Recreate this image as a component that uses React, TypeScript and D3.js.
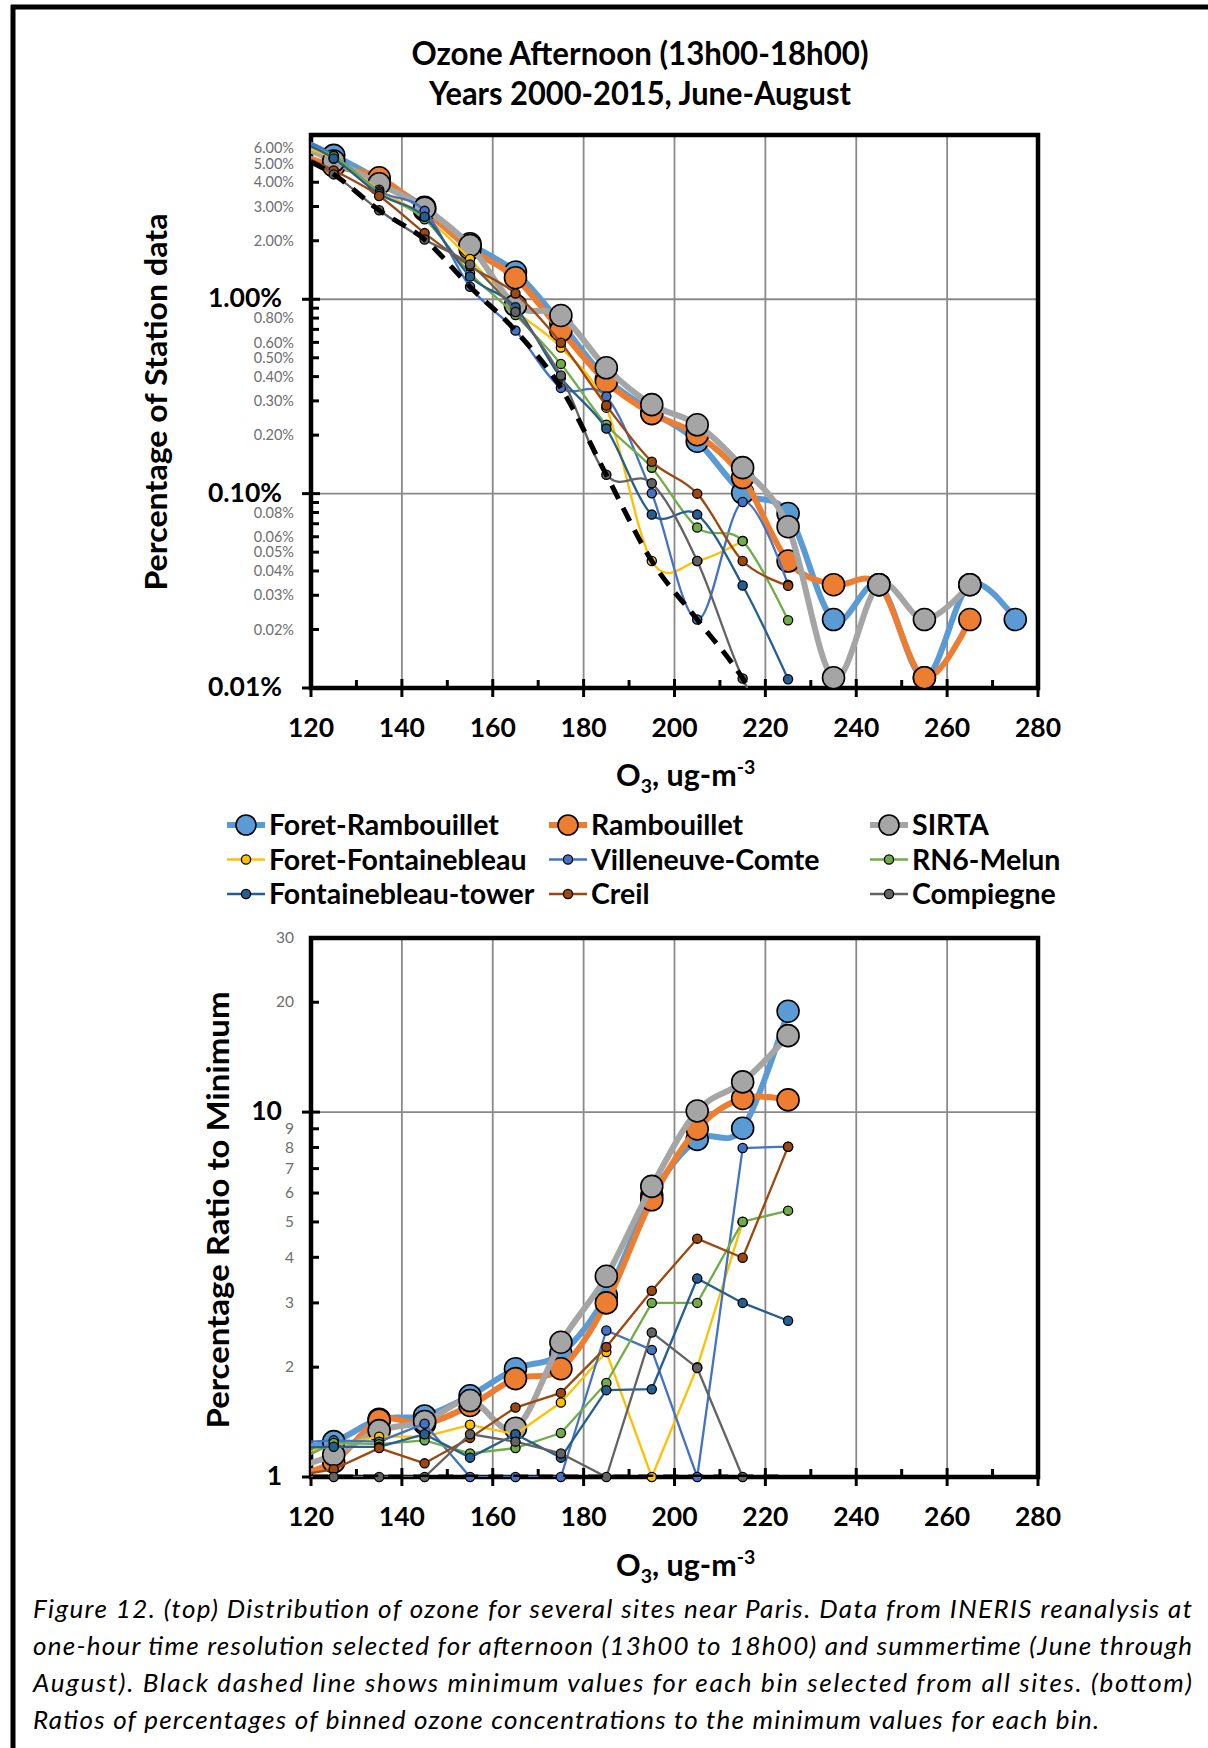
import React from 'react';
import * as d3 from 'd3';

// O3 bin centres (ug-m-3). The 115 bin lies left of the axis: only its clipped line ends show.
const bins = [115, 125, 135, 145, 155, 165, 175, 185, 195, 205, 215, 225, 235, 245, 255, 265, 275];

// top panel: percentage of station data (%)
const pctForetRambouillet = [7.0, 5.5, 4.12, 2.97, 1.93, 1.38, 0.75, 0.39, 0.265, 0.186, 0.101, 0.079, 0.0225, 0.034, 0.0113, 0.034, 0.0225];
const pctRambouillet = [5.77, 4.85, 4.22, 2.87, 1.82, 1.29, 0.69, 0.376, 0.258, 0.201, 0.121, 0.045, 0.034, 0.034, 0.0113, 0.0225];
const pctSirta = [6.6, 5.14, 3.93, 2.94, 1.89, 0.93, 0.825, 0.444, 0.287, 0.226, 0.136, 0.0676, 0.0113, 0.034, 0.0225, 0.034];
const pctForetFontainebleau = [6.4, 5.3, 3.66, 2.66, 1.61, 0.88, 0.565, 0.277, 0.045, 0.045, 0.057];
const pctVilleneuve = [7.2, 5.5, 3.6, 2.85, 1.16, 0.69, 0.35, 0.316, 0.1005, 0.0225, 0.0906, 0.034];
const pctRn6Melun = [6.5, 5.45, 3.54, 2.58, 1.36, 0.83, 0.465, 0.226, 0.136, 0.067, 0.057, 0.0223];
const pctFontainebleauTower = [6.9, 5.3, 3.48, 2.66, 1.31, 0.91, 0.395, 0.216, 0.078, 0.078, 0.0337, 0.0111];
const pctCreil = [5.85, 4.6, 3.4, 2.19, 1.48, 1.07, 0.597, 0.284, 0.146, 0.1, 0.045, 0.0336];
const pctCompiegne = [5.88, 4.39, 2.87, 2.03, 1.51, 0.86, 0.405, 0.125, 0.113, 0.045, 0.0112, 0.0042];
const pctMinimum = [5.77, 4.39, 2.87, 2.03, 1.16, 0.69, 0.35, 0.125, 0.045, 0.0225, 0.0112, 0.0042];

// bottom panel: ratio of percentage to the bin minimum
const ratioForetRambouillet = [1.2, 1.25, 1.44, 1.47, 1.67, 1.98, 2.18, 3.14, 5.9, 8.42, 9.03, 18.9];
const ratioRambouillet = [1.0, 1.1, 1.43, 1.4, 1.57, 1.86, 1.98, 3.0, 5.75, 8.99, 10.9, 10.8];
const ratioSirta = [1.05, 1.15, 1.34, 1.42, 1.62, 1.36, 2.34, 3.55, 6.26, 10.07, 12.1, 16.2];
const ratioForetFontainebleau = [1.14, 1.22, 1.29, 1.29, 1.39, 1.31, 1.6, 2.2, 1.0, 2.0, 5.0];
const ratioVilleneuve = [1.24, 1.26, 1.25, 1.4, 1.0, 1.0, 1.0, 2.52, 2.23, 1.0, 7.97, 8.04];
const ratioRn6Melun = [1.08, 1.24, 1.23, 1.26, 1.16, 1.2, 1.32, 1.81, 3.0, 3.0, 5.01, 5.37];
const ratioFontainebleauTower = [1.2, 1.21, 1.21, 1.31, 1.13, 1.31, 1.13, 1.73, 1.74, 3.5, 3.0, 2.68];
const ratioCreil = [1.0, 1.05, 1.2, 1.09, 1.28, 1.55, 1.7, 2.27, 3.24, 4.5, 3.99, 8.04];
const ratioCompiegne = [1.0, 1.0, 1.0, 1.0, 1.31, 1.25, 1.16, 1.0, 2.49, 1.99, 1.0];
const ratioMinimum = [1, 1, 1, 1, 1, 1, 1, 1, 1, 1, 1, 1];

const stations = ['Foret-Rambouillet', 'Rambouillet', 'SIRTA', 'Foret-Fontainebleau', 'Villeneuve-Comte', 'RN6-Melun', 'Fontainebleau-tower', 'Creil', 'Compiegne'];
const stationColors = ['#5B9BD5', '#ED7D31', '#A5A5A5', '#FFC000', '#4472C4', '#70AD47', '#255E91', '#9E480E', '#636363'];
const heavySeries = [true, true, true, false, false, false, false, false, false];

const xTicks = [120, 140, 160, 180, 200, 220, 240, 260, 280];
const xMinorTicks = [130, 150, 170, 190, 210, 230, 250, 270];
const pctMajor = [0.01, 0.1, 1];
const pctMinor = [0.02, 0.03, 0.04, 0.05, 0.06, 0.07, 0.08, 0.09, 0.2, 0.3, 0.4, 0.5, 0.6, 0.7, 0.8, 0.9, 2, 3, 4, 5, 6];
const pctMinorLabels = [0.02, 0.03, 0.04, 0.05, 0.06, 0.08, 0.2, 0.3, 0.4, 0.5, 0.6, 0.8, 2, 3, 4, 5, 6];
const ratioMajor = [1, 10];
const ratioMinor = [2, 3, 4, 5, 6, 7, 8, 9, 20, 30];

const captionLines = [
  'Figure 12. (top) Distribution of ozone for several sites near Paris. Data from INERIS reanalysis at',
  'one-hour time resolution selected for afternoon (13h00 to 18h00) and summertime (June through',
  'August). Black dashed line shows minimum values for each bin selected from all sites. (bottom)',
  'Ratios of percentages of binned ozone concentrations to the minimum values for each bin.',
];

const pctSeries = [pctForetRambouillet, pctRambouillet, pctSirta, pctForetFontainebleau, pctVilleneuve, pctRn6Melun, pctFontainebleauTower, pctCreil, pctCompiegne];
const ratioSeries = [ratioForetRambouillet, ratioRambouillet, ratioSirta, ratioForetFontainebleau, ratioVilleneuve, ratioRn6Melun, ratioFontainebleauTower, ratioCreil, ratioCompiegne];

const FONT = "Lato, 'Open Sans', sans-serif";
const left = 311, right = 1038;
const x = d3.scaleLinear().domain([120, 280]).range([left, right]);
const yPct = d3.scaleLog().domain([0.01, 7]).range([688, 135]);
const yRatio = d3.scaleLog().domain([1, 30]).range([1477, 938]);

type Pt = [number, number | null];

function Panel({ id, y, series, minSeries, smoothThin, major, majorFmt, minor, minorLabels, minorFmt }) {
  const [y0, y1] = y.range();
  const bottom = y0, top = y1;
  const [dLo, dHi] = y.domain();
  const pts = (vals: number[]): Pt[] => bins.map((b, i) => [b, vals[i] == null ? null : vals[i]]);
  const mkLine = (smooth: boolean) => d3.line<Pt>()
    .defined(d => d[1] != null)
    .x(d => x(d[0]))
    .y(d => y(d[1] as number))
    .curve(smooth ? d3.curveCatmullRom.alpha(0) : d3.curveLinear);
  const inside = (d: Pt) => d[1] != null && d[0] >= 120 && d[0] <= 280 && d[1] >= dLo * 0.999 && d[1] <= dHi;

  return (
    <g>
      <defs>
        <clipPath id={id}>
          <rect x={left} y={top} width={right - left} height={bottom - top} />
        </clipPath>
      </defs>
      {/* grid */}
      {xTicks.slice(1, -1).map(t => (
        <line key={'gx' + t} x1={x(t)} x2={x(t)} y1={top} y2={bottom} stroke="#8a8a8a" strokeWidth={1.8} />
      ))}
      {major.filter(v => v > dLo).map(v => (
        <line key={'gy' + v} x1={left} x2={right} y1={y(v)} y2={y(v)} stroke="#8a8a8a" strokeWidth={1.8} />
      ))}
      {/* ticks */}
      {xTicks.map(t => (
        <line key={'tx' + t} x1={x(t)} x2={x(t)} y1={bottom - 9} y2={bottom + 9} stroke="#000" strokeWidth={3} />
      ))}
      {xMinorTicks.map(t => (
        <line key={'mx' + t} x1={x(t)} x2={x(t)} y1={bottom - 8} y2={bottom} stroke="#000" strokeWidth={3} />
      ))}
      {major.map(v => (
        <line key={'ty' + v} x1={left - 9} x2={left + 9} y1={y(v)} y2={y(v)} stroke="#000" strokeWidth={3} />
      ))}
      {minor.map(v => (
        <line key={'my' + v} x1={left} x2={left + 8} y1={y(v)} y2={y(v)} stroke="#000" strokeWidth={3} />
      ))}
      <rect x={left} y={top} width={right - left} height={bottom - top} fill="none" stroke="#000" strokeWidth={4.5} />
      {/* tick labels */}
      {xTicks.map(t => (
        <text key={'lx' + t} x={x(t)} y={bottom + 49} textAnchor="middle" fontSize={26.5} fontWeight="bold" fontFamily={FONT}>{t}</text>
      ))}
      {major.map(v => (
        <text key={'ly' + v} x={282} y={y(v) + 8} textAnchor="end" fontSize={26.5} fontWeight="bold" fontFamily={FONT}>{majorFmt(v)}</text>
      ))}
      {minorLabels.map(v => (
        <text key={'lm' + v} x={294} y={y(v) + 5.2} textAnchor="end" fontSize={minorFmt === 'pct' ? 14.5 : 15.5} fill="#6e6e6e" fontFamily={FONT}>
          {minorFmt === 'pct' ? v.toFixed(2) + '%' : String(v)}
        </text>
      ))}
      {/* series */}
      {series.map((vals, i) => {
        const data = pts(vals);
        const heavy = heavySeries[i];
        const r = heavy ? 11 : 4.6;
        return (
          <g key={'s' + i}>
            <path d={mkLine(heavy || smoothThin)(data) || ''} fill="none" stroke={stationColors[i]}
              strokeWidth={heavy ? 6 : 2.3} strokeLinejoin="round" clipPath={`url(#${id})`} />
            {data.filter(inside).map(d => (
              <circle key={d[0]} cx={x(d[0])} cy={y(d[1] as number)} r={r} fill={stationColors[i]} stroke="#000" strokeWidth={heavy ? 1.6 : 1.3} />
            ))}
          </g>
        );
      })}
      <path d={mkLine(smoothThin)(pts(minSeries)) || ''} fill="none" stroke="#000" strokeWidth={5}
        strokeDasharray="15,10" clipPath={`url(#${id})`} />
    </g>
  );
}

function XTitle({ yBase }) {
  return (
    <text x={616} y={yBase} fontSize={30.5} fontWeight="bold" fontFamily={FONT}>
      O<tspan dy={7} fontSize={19.5}>3</tspan>
      <tspan dy={-7}>, ug-m</tspan>
      <tspan dy={-12} fontSize={19.5}>-3</tspan>
    </text>
  );
}

export default function App() {
  const legendCols = [227, 549, 870];
  const legendRows = [825, 859.5, 894];
  return (
    <div>
      <style>{'body{margin:0}'}</style>
      <svg width={1208} height={1748} style={{ display: 'block', background: '#fff' }}>
        <rect x={0} y={0} width={1208} height={1748} fill="#fff" />
        {/* figure frame */}
        <line x1={11} x2={1208} y1={7} y2={7} stroke="#000" strokeWidth={5} />
        <line x1={13} x2={13} y1={5} y2={1748} stroke="#000" strokeWidth={5} />

        <text x={640} y={65} textAnchor="middle" fontSize={32} fontWeight="bold" fontFamily={FONT}
          textLength={457} lengthAdjust="spacingAndGlyphs">Ozone Afternoon (13h00-18h00)</text>
        <text x={640} y={105} textAnchor="middle" fontSize={32} fontWeight="bold" fontFamily={FONT}
          textLength={422} lengthAdjust="spacingAndGlyphs">Years 2000-2015, June-August</text>

        <text transform="translate(167,402) rotate(-90)" textAnchor="middle" fontSize={31} fontWeight="bold" fontFamily={FONT}
          textLength={377} lengthAdjust="spacingAndGlyphs">Percentage of Station data</text>
        <text transform="translate(229,1210) rotate(-90)" textAnchor="middle" fontSize={31} fontWeight="bold" fontFamily={FONT}
          textLength={437} lengthAdjust="spacingAndGlyphs">Percentage Ratio to Minimum</text>

        <Panel id="clipTop" y={yPct} series={pctSeries} minSeries={pctMinimum} smoothThin={true}
          major={pctMajor} majorFmt={v => v.toFixed(2) + '%'} minor={pctMinor} minorLabels={pctMinorLabels} minorFmt="pct" />
        <XTitle yBase={786} />

        {/* legend */}
        {stations.map((name, i) => {
          const cx = legendCols[i % 3];
          const cy = legendRows[Math.floor(i / 3)];
          const heavy = heavySeries[i];
          return (
            <g key={name}>
              <line x1={cx} x2={cx + 38} y1={cy} y2={cy} stroke={stationColors[i]} strokeWidth={heavy ? 6 : 2.3} />
              <circle cx={cx + 19} cy={cy} r={heavy ? 10 : 4.6} fill={stationColors[i]} stroke="#000" strokeWidth={heavy ? 1.6 : 1.3} />
              <text x={cx + 42} y={cy + 10} fontSize={28.5} fontWeight="bold" fontFamily={FONT}>{name}</text>
            </g>
          );
        })}

        <Panel id="clipBottom" y={yRatio} series={ratioSeries} minSeries={ratioMinimum} smoothThin={false}
          major={ratioMajor} majorFmt={v => String(v)} minor={ratioMinor} minorLabels={ratioMinor} minorFmt="num" />
        <XTitle yBase={1576} />

        {captionLines.map((line, i) => (
          <text key={i} x={33} y={1618 + i * 37} fontSize={26} fontStyle="italic" fontFamily={FONT}
            textLength={i < 3 ? 1159 : 1066} lengthAdjust="spacing">{line}</text>
        ))}
      </svg>
    </div>
  );
}
